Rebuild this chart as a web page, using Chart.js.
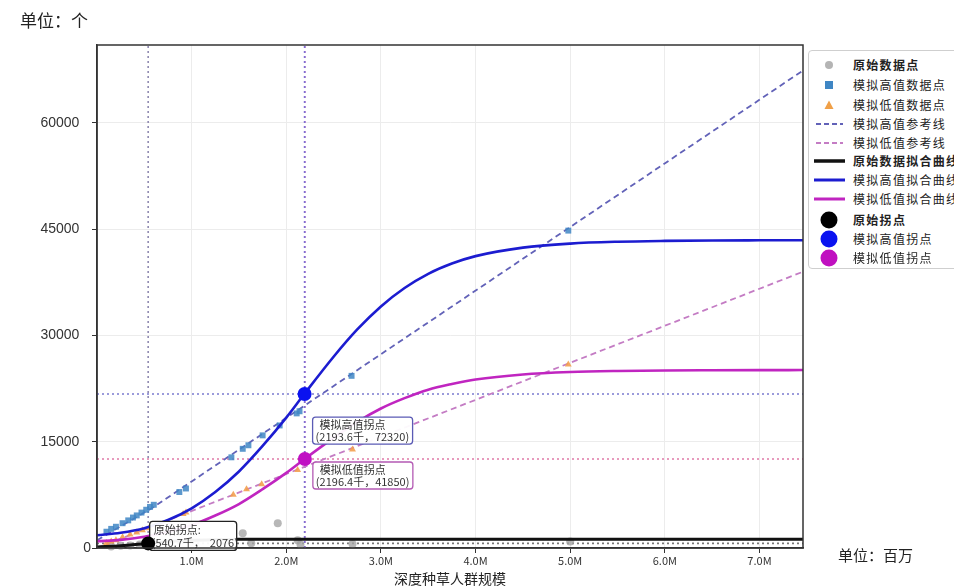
<!DOCTYPE html>
<html><head><meta charset="utf-8">
<script src="https://cdn.jsdelivr.net/npm/chart.js@4.4.1/dist/chart.umd.min.js"></script>
<style>
html,body{margin:0;padding:0;background:#fff;width:954px;height:586px;overflow:hidden;font-family:"Noto Sans CJK SC",sans-serif;}
#wrap{position:relative;width:954px;height:586px;overflow:hidden;}
#c{position:absolute;left:0;top:0;}
.t{position:absolute;white-space:nowrap;color:#222;line-height:1;}
#legend{position:absolute;left:808px;top:50px;width:170px;height:217px;border:1px solid #cfcfcf;border-radius:4px;background:#fff;}
.row{position:absolute;left:0;height:20px;width:170px;}
.row svg{position:absolute;left:3px;top:0;}
.row span{position:absolute;left:44px;top:0;font-size:12px;letter-spacing:1.3px;color:#222;line-height:20px;white-space:nowrap;}
.row span.b{font-weight:bold;}
</style></head>
<body>
<div id="wrap">
<canvas id="c" width="954" height="586"></canvas>
<div class="t" style="left:20px;top:11px;font-size:17px;">单位：个</div>
<div class="t" style="left:838px;top:547px;font-size:15px;">单位：百万</div>
<div class="t" style="left:450px;top:571px;font-size:14px;transform:translateX(-50%);">深度种草人群规模</div>
<div id="legend"></div>
</div>
<script>
// ---------------- data (x in millions, y in 个) ----------------
const xTickValues = [1, 2, 3, 4, 5, 6, 7];
const xTickLabels = ['1.0M', '2.0M', '3.0M', '4.0M', '5.0M', '6.0M', '7.0M'];
const yTickValues = [0, 15000, 30000, 45000, 60000];
const yTickLabels = ['0', '15000', '30000', '45000', '60000'];

const curveX      = [0, 0.25, 0.5, 0.75, 1.0, 1.25, 1.5, 1.75, 2.0, 2.19, 2.5, 2.75, 3.0, 3.25, 3.5, 3.75, 4.0, 4.5, 5.0, 5.5, 6.0, 6.5, 7.0, 7.46];
const highCurveY  = [1800, 2150, 2800, 3950, 5600, 7900, 10800, 14400, 18400, 21730, 27000, 30850, 34100, 36700, 38700, 40150, 41200, 42400, 42970, 43230, 43350, 43410, 43430, 43440];
const lowCurveY   = [950, 1150, 1600, 2300, 3230, 4580, 6200, 8300, 10600, 12530, 15550, 17800, 19690, 21150, 22350, 23150, 23790, 24500, 24840, 24990, 25060, 25090, 25110, 25115];
const origCurveY  = [150, 320, 600, 900, 1080, 1170, 1220, 1240, 1250, 1250, 1250, 1250, 1250, 1250, 1250, 1250, 1250, 1250, 1250, 1250, 1250, 1250, 1250, 1250];

const origPtsX = [0.15, 0.25, 0.35, 0.45, 0.55, 1.54, 1.63, 1.91, 2.12, 2.15, 2.70, 5.00];
const origPtsY = [200, 300, 350, 500, 600, 2070, 660, 3500, 1100, 500, 560, 900];

const highPtsX = [0.10, 0.15, 0.20, 0.27, 0.33, 0.38, 0.42, 0.47, 0.52, 0.56, 0.60, 0.87, 0.94, 1.42, 1.54, 1.60, 1.75, 1.93, 2.11, 2.14, 2.69, 4.98];
const highPtsY = [2300, 2700, 3000, 3500, 3900, 4300, 4600, 5000, 5400, 5800, 6100, 7900, 8400, 12800, 14000, 14500, 15900, 17300, 19000, 19300, 24300, 44800];

const lowPtsX = [0.10, 0.15, 0.20, 0.27, 0.35, 0.42, 0.48, 0.55, 0.62, 0.91, 0.94, 1.44, 1.58, 1.74, 2.12, 2.70, 4.98];
const lowPtsY = [700, 900, 1100, 1500, 1900, 2200, 2500, 2800, 3200, 4800, 5000, 7500, 8300, 9000, 11000, 13900, 25900];

const highRefX = [0, 0.6, 7.46];
const highRefY = [1100, 5800, 67400];
const lowRefX = [0, 7.46];
const lowRefY = [0, 39000];

// inflection points: original, high, low
const inflX = [0.5407, 2.1936, 2.1964];
const inflY = [650, 21730, 12560];
const inflText = [['原始拐点:', '(540.7千，  2076)'], ['模拟高值拐点', '(2193.6千，72320)'], ['模拟低值拐点', '(2196.4千，41850)']];

const xMin = 0, xMax = 7.46, yMin = 0, yMax = 71000;

// ---------------- legend (HTML) ----------------
const legendNames = ['原始数据点', '模拟高值数据点', '模拟低值数据点', '模拟高值参考线', '模拟低值参考线', '原始数据拟合曲线', '模拟高值拟合曲线', '模拟低值拟合曲线', '原始拐点', '模拟高值拐点', '模拟低值拐点'];
const legendBold = [true, false, false, false, false, true, false, false, true, false, false];
const legendRowY = [65, 85, 105, 124, 143, 161, 180, 199, 220, 239, 258];
const legendIcons = [
  '<circle cx="17" cy="10" r="4" fill="#b4b4b4"/>',
  '<rect x="13" y="6" width="8" height="8" fill="#3f86c4"/>',
  '<polygon points="17,5.5 21.5,14 12.5,14" fill="#f0a048"/>',
  '<line x1="4" y1="10" x2="31" y2="10" stroke="#6262b8" stroke-width="2" stroke-dasharray="5,3"/>',
  '<line x1="4" y1="10" x2="31" y2="10" stroke="#c47cc4" stroke-width="2" stroke-dasharray="5,3"/>',
  '<line x1="2" y1="10" x2="33" y2="10" stroke="#111" stroke-width="3.5"/>',
  '<line x1="2" y1="10" x2="33" y2="10" stroke="#1c1cd0" stroke-width="3"/>',
  '<line x1="2" y1="10" x2="33" y2="10" stroke="#c025c0" stroke-width="3"/>',
  '<circle cx="17" cy="10" r="8.5" fill="#000"/>',
  '<circle cx="17" cy="10" r="8.5" fill="#0a12f0"/>',
  '<circle cx="17" cy="10" r="8.5" fill="#c010c0"/>'
];
const lg = document.getElementById('legend');
legendNames.forEach((n, i) => {
  const r = document.createElement('div');
  r.className = 'row';
  r.style.top = (legendRowY[i] - 10 - 51) + 'px';
  r.innerHTML = '<svg width="36" height="20">' + legendIcons[i] + '</svg><span class="' + (legendBold[i] ? 'b' : '') + '">' + n + '</span>';
  lg.appendChild(r);
});

// ---------------- chart ----------------
const pts = (xs, ys) => xs.map((x, i) => ({x: x, y: ys[i]}));
const vLine = (x) => [{x: x, y: yMin}, {x: x, y: yMax}];
const hLine = (y) => [{x: xMin, y: y}, {x: xMax, y: y}];

function dotted(data, color, order) {
  return {data: data, showLine: true, pointRadius: 0, borderColor: color, borderWidth: 1.6, borderDash: [2, 3], order: order};
}

const datasets = [
  dotted(vLine(inflX[0]), '#8f89b0', 20),
  dotted(vLine(inflX[1]), '#7e6fd2', 20),
  dotted(vLine(inflX[2]), '#c074c8', 20),
  dotted(hLine(inflY[1]), '#7b7bd0', 20),
  dotted(hLine(inflY[2]), '#e07aa8', 20),
  dotted(hLine(inflY[0]), '#777777', 20),
  {data: pts(highRefX, highRefY), showLine: true, pointRadius: 0, borderColor: '#6262b8', borderWidth: 1.8, borderDash: [6, 4], order: 15},
  {data: pts(lowRefX, lowRefY), showLine: true, pointRadius: 0, borderColor: '#c47cc4', borderWidth: 1.8, borderDash: [6, 4], order: 15},
  {data: pts(origPtsX, origPtsY), pointStyle: 'circle', pointRadius: 4, backgroundColor: 'rgba(165,165,165,0.8)', borderWidth: 0, order: 12, clip: false},
  {data: pts(highPtsX, highPtsY), pointStyle: 'rect', pointRadius: 4.2, backgroundColor: 'rgba(63,134,196,0.85)', borderWidth: 0, order: 10},
  {data: pts(lowPtsX, lowPtsY), pointStyle: 'triangle', pointRadius: 4, backgroundColor: 'rgba(243,160,79,0.9)', borderWidth: 0, order: 10},
  {data: pts(curveX, origCurveY), showLine: true, pointRadius: 0, borderColor: '#111', borderWidth: 3, cubicInterpolationMode: 'monotone', order: 6},
  {data: pts(curveX, highCurveY), showLine: true, pointRadius: 0, borderColor: '#1c1cd0', borderWidth: 2.6, cubicInterpolationMode: 'monotone', order: 5},
  {data: pts(curveX, lowCurveY), showLine: true, pointRadius: 0, borderColor: '#c025c0', borderWidth: 2.6, cubicInterpolationMode: 'monotone', order: 5},
  {data: [{x: inflX[1], y: inflY[1]}], pointRadius: 7, backgroundColor: '#0a12f0', borderWidth: 0, order: 0, clip: false},
  {data: [{x: inflX[2], y: inflY[2]}], pointRadius: 7, backgroundColor: '#c010c4', borderWidth: 0, order: 0, clip: false},
  {data: [{x: inflX[0], y: inflY[0]}], pointRadius: 7, backgroundColor: '#000', borderWidth: 0, order: 0, clip: false}
];
const ORIG_MARK_IDX = 16;

const annoStyle = [
  {dx: 1.5, dy: -22, w: 87, h: 29, border: '#222', l1: [4, 8], l2: [2, 21]},
  {dx: 8, dy: 23, w: 100, h: 27, border: '#5b5bb5', l1: [7, 8], l2: [3, 20]},
  {dx: 8, dy: 3, w: 100, h: 27, border: '#b45ab4', l1: [7, 8], l2: [3, 20]}
];

function roundRect(ctx, x, y, w, h, r) {
  ctx.beginPath();
  ctx.moveTo(x + r, y);
  ctx.arcTo(x + w, y, x + w, y + h, r);
  ctx.arcTo(x + w, y + h, x, y + h, r);
  ctx.arcTo(x, y + h, x, y, r);
  ctx.arcTo(x, y, x + w, y, r);
  ctx.closePath();
}

const annoPlugin = {
  id: 'anno',
  beforeDatasetDraw(chart, args) {
    if (args.index !== ORIG_MARK_IDX) return;
    const ctx = chart.ctx, xs = chart.scales.x, ys = chart.scales.y;
    inflX.forEach((xv, i) => {
      const s = annoStyle[i];
      const bx = xs.getPixelForValue(xv) + s.dx;
      const by = ys.getPixelForValue(inflY[i]) + s.dy;
      ctx.save();
      roundRect(ctx, bx, by, s.w, s.h, 3);
      ctx.fillStyle = 'rgba(255,255,255,0.95)';
      ctx.fill();
      ctx.lineWidth = 1.3;
      ctx.strokeStyle = s.border;
      ctx.stroke();
      ctx.fillStyle = '#333';
      ctx.font = '11px "Noto Sans CJK SC"';
      ctx.textBaseline = 'middle';
      ctx.textAlign = 'left';
      ctx.fillText(inflText[i][0], bx + s.l1[0], by + s.l1[1]);
      ctx.fillText(inflText[i][1], bx + s.l2[0], by + s.l2[1]);
      ctx.restore();
    });
  }
};

const framePlugin = {
  id: 'frame',
  afterDraw(chart) {
    const a = chart.chartArea, ctx = chart.ctx;
    ctx.save();
    ctx.strokeStyle = '#333';
    ctx.lineWidth = 1.5;
    ctx.strokeRect(a.left, a.top, a.right - a.left, a.bottom - a.top);
    ctx.restore();
  }
};

new Chart(document.getElementById('c'), {
  type: 'scatter',
  data: {datasets: datasets},
  plugins: [annoPlugin, framePlugin],
  options: {
    responsive: false,
    devicePixelRatio: 1,
    animation: false,
    events: [],
    layout: {padding: {left: 10, right: 151, top: 45, bottom: 13}},
    plugins: {legend: {display: false}, tooltip: {enabled: false}, title: {display: false}},
    scales: {
      x: {
        type: 'linear', min: xMin, max: xMax,
        afterFit: (s) => { s.height = 25; },
        afterBuildTicks: (s) => { s.ticks = xTickValues.map(v => ({value: v})); },
        ticks: {
          callback: (v, i) => xTickLabels[i],
          font: {size: 11, family: '"Noto Sans CJK SC"'}, color: '#333', padding: 1, maxRotation: 0, autoSkip: false
        },
        grid: {color: '#ececec', lineWidth: 1, tickLength: 5, tickColor: '#333', drawTicks: true},
        border: {color: '#333', width: 1.5}
      },
      y: {
        type: 'linear', min: yMin, max: yMax,
        afterFit: (s) => { s.width = 87; },
        afterBuildTicks: (s) => { s.ticks = yTickValues.map(v => ({value: v})); },
        ticks: {
          callback: (v, i) => (i === 0 ? yTickLabels[i] : yTickLabels[i] + '   '),
          font: {size: 14, family: '"Liberation Sans"'}, color: '#333', padding: 1, autoSkip: false
        },
        grid: {color: '#ececec', lineWidth: 1, tickLength: 5, tickColor: '#333', drawTicks: true},
        border: {color: '#333', width: 1.5}
      }
    }
  }
});
</script>
</body></html>
